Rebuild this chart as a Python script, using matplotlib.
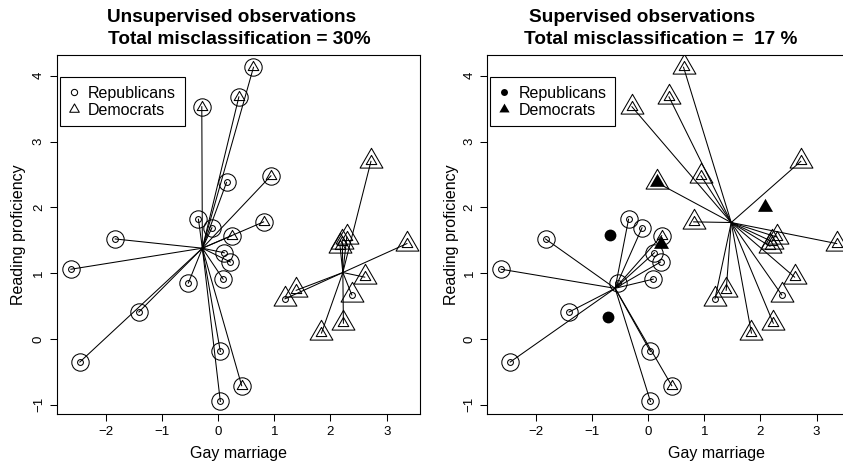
import matplotlib
matplotlib.use("Agg")
import matplotlib.pyplot as plt
from matplotlib.lines import Line2D
from matplotlib.path import Path

plt.rcParams['font.family'] = ['Liberation Sans', 'DejaVu Sans']

# observations: position on the two issue scales and party (R / D)
gay = [0.63, 0.37, -0.29, 0.15, 0.94, 2.72, -0.35, -0.11, 0.81, 0.24,
       -1.83, -2.62, 0.11, 0.22, 0.09, -0.53, -1.41, -2.46, 0.04, 0.42, 0.04,
       2.29, 2.21, 2.17, 3.36, 2.61, 2.38, 1.39, 1.19, 1.84, 2.23]
reading = [4.13, 3.68, 3.53, 2.38, 2.48, 2.70, 1.82, 1.69, 1.78, 1.57,
           1.52, 1.06, 1.31, 1.17, 0.91, 0.85, 0.41, -0.35, -0.19, -0.71, -0.95,
           1.55, 1.48, 1.41, 1.45, 0.94, 0.67, 0.74, 0.61, 0.09, 0.24]
party = ['D', 'D', 'D', 'R', 'D', 'D', 'R', 'R', 'D', 'D',
         'R', 'R', 'R', 'R', 'R', 'R', 'R', 'R', 'R', 'D', 'R',
         'D', 'D', 'D', 'D', 'D', 'R', 'D', 'R', 'D', 'D']

# cluster assignment: 0 = Republican cluster, 1 = Democrat cluster
group_unsup = [0, 0, 0, 0, 0, 1, 0, 0, 0, 0,
               0, 0, 0, 0, 0, 0, 0, 0, 0, 0, 0,
               1, 1, 1, 1, 1, 1, 1, 1, 1, 1]
group_sup = [1, 1, 1, 1, 1, 1, 0, 0, 1, 0,
             0, 0, 0, 0, 0, 0, 0, 0, 0, 0, 0,
             1, 1, 1, 1, 1, 1, 1, 1, 1, 1]

# cluster centres
unsup_cx = [-0.28, 2.22]
unsup_cy = [1.38, 1.01]
sup_cx = [-0.59, 1.48]
sup_cy = [0.77, 1.77]

# labelled observations used for supervision
lab_x = [-0.68, -0.72, 0.15, 0.22, 2.09]
lab_y = [1.58, 0.34, 2.38, 1.45, 2.00]
lab_party = ['R', 'R', 'D', 'D', 'D']

xticks = [-2, -1, 0, 1, 2, 3]
yticks = [-1, 0, 1, 2, 3, 4]

titles = [("Unsupervised observations", "Total misclassification = 30%"),
          ("Supervised observations", "Total misclassification =  17 %")]

W, H = 843, 466
TRI = Path([(0, 1), (-0.866, -0.5), (0.866, -0.5), (0, 1)], closed=True)
LW = 0.75


def draw_panel(ax, groups, cx, cy):
    for i in range(len(gay)):
        g = groups[i]
        ax.plot([cx[g], gay[i]], [cy[g], reading[i]], color='black', lw=LW, zorder=1)
    for i in range(len(gay)):
        g = groups[i]
        if g == 0:
            ax.plot(gay[i], reading[i], marker='o', ms=12.5, mfc='none', mec='black', mew=LW, zorder=2)
        else:
            ax.plot(gay[i], reading[i], marker=TRI, ms=19, mfc='none', mec='black', mew=LW, zorder=2)
        if party[i] == 'R':
            ax.plot(gay[i], reading[i], marker='o', ms=4.2, mfc='none', mec='black', mew=LW, zorder=3)
        else:
            ax.plot(gay[i], reading[i], marker=TRI, ms=8.8, mfc='none', mec='black', mew=LW, zorder=3)


def style_axes(ax, xlim):
    ax.set_xticks(xticks)
    ax.set_yticks(yticks)
    ax.set_xlim(xlim)
    ax.set_ylim(-1.14, 4.316)
    ax.tick_params(direction='out', length=5, width=LW, pad=3.5, labelsize=9.5, colors='black')
    ax.tick_params(axis='y', labelrotation=90)
    for lab in ax.get_yticklabels():
        lab.set_va('center')
    for sp in ax.spines.values():
        sp.set_linewidth(0.8)
        sp.set_color('black')
    ax.set_xlabel("Gay marriage", fontsize=11.5)
    ax.set_ylabel("Reading proficiency", fontsize=11.5)


fig = plt.figure(figsize=(W / 100, H / 100), dpi=100)

# axes boxes in pixels: left, right, top, bottom
boxes = [(56.7, 420.0, 55.0, 414.0), (487.3, 946.0, 55.0, 414.0)]
xlims = [(-2.872, 3.593), (-2.868, 5.308)]
ylab_off = [31.0, 28.0]
leg_left = [3.3, 3.0]

axes = []
for k, (x0, x1, y0, y1) in enumerate(boxes):
    ax = fig.add_axes([x0 / W, 1 - y1 / H, (x1 - x0) / W, (y1 - y0) / H])
    style_axes(ax, xlims[k])
    ax.xaxis.set_label_coords(0.5, -32.0 / (y1 - y0))
    ax.yaxis.set_label_coords(-ylab_off[k] / (x1 - x0), 0.5)
    axes.append(ax)

draw_panel(axes[0], group_unsup, unsup_cx, unsup_cy)
draw_panel(axes[1], group_sup, sup_cx, sup_cy)

# labelled points drawn solid
for x, y, p in zip(lab_x, lab_y, lab_party):
    if p == 'R':
        axes[1].plot(x, y, marker='o', ms=8.5, color='black', mew=0, zorder=4)
    else:
        axes[1].plot(x, y, marker=TRI, ms=12.5, color='black', mew=0, zorder=4)

# legends
handles_open = [Line2D([], [], ls='none', marker='o', ms=4.5, mfc='none', mec='black', mew=LW),
                Line2D([], [], ls='none', marker=TRI, ms=8, mfc='none', mec='black', mew=LW)]
handles_fill = [Line2D([], [], ls='none', marker='o', ms=5, color='black', mew=0),
                Line2D([], [], ls='none', marker=TRI, ms=8.5, color='black', mew=0)]
for k, hnd in enumerate([handles_open, handles_fill]):
    x0, x1, y0, y1 = boxes[k]
    leg = axes[k].legend(hnd, ["Republicans", "Democrats"], loc='upper left',
                         bbox_to_anchor=(leg_left[k] / (x1 - x0), 1 - 22.0 / (y1 - y0)),
                         borderaxespad=0, fontsize=11.5, borderpad=0.55, labelspacing=0.12,
                         handlelength=0.6, handletextpad=0.6, fancybox=False,
                         framealpha=1, edgecolor='black', numpoints=1)
    leg.get_frame().set_linewidth(0.8)

# two-line bold titles
title_cx = [(231.7, 239.0), (641.7, 660.8)]
for k, (l1, l2) in enumerate(titles):
    fig.text(title_cx[k][0] / W, 1 - 22.5 / H, l1, ha='center', va='baseline',
             fontsize=13.7, fontweight='bold')
    fig.text(title_cx[k][1] / W, 1 - 43.5 / H, l2, ha='center', va='baseline',
             fontsize=13.7, fontweight='bold')

fig.savefig("out.png", dpi=100)
